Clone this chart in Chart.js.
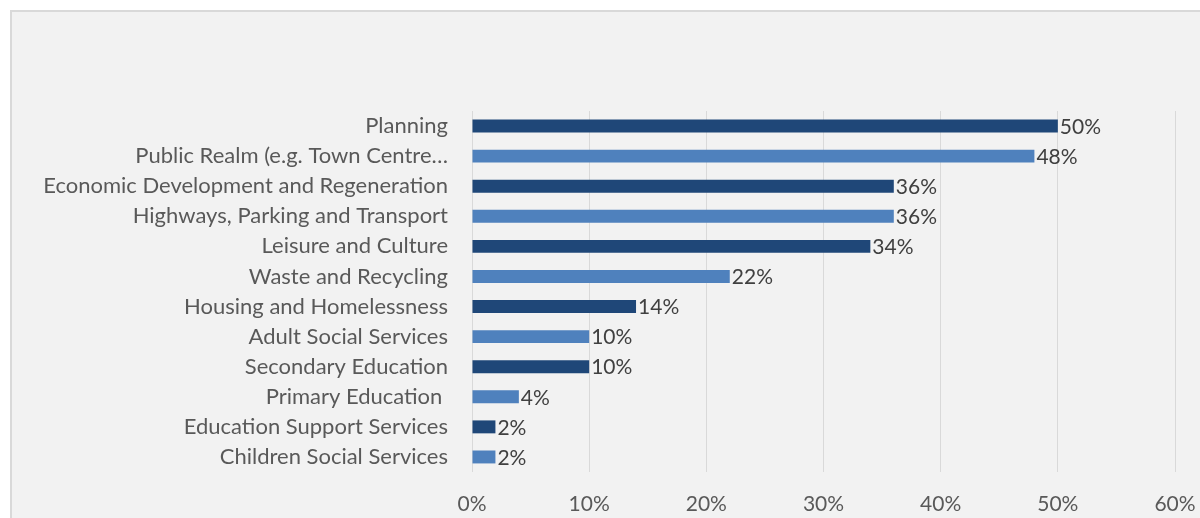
<!DOCTYPE html>
<html>
<head>
<meta charset="utf-8">
<script src="https://cdn.jsdelivr.net/npm/chart.js@4/dist/chart.umd.min.js"></script>
<style>
  html, body { margin: 0; padding: 0; background: #ffffff; }
  body { width: 1200px; height: 518px; position: relative; overflow: hidden; }
  .frame {
    position: absolute; left: 10px; top: 10px; width: 1220px; height: 540px;
    background: #f2f2f2; border: 2px solid #d9d9d9; box-sizing: border-box;
  }
  .wrap { position: absolute; left: 0; top: 0; width: 1200px; height: 518px; }
</style>
</head>
<body>
<div class="frame"></div>
<div class="wrap"><canvas id="chart"></canvas></div>
<script>
// Service areas and share of responses (%)
const categories = [
  "Planning",
  "Public Realm (e.g. Town Centre\u2026",
  "Economic Development and Regeneration",
  "Highways, Parking and Transport",
  "Leisure and Culture",
  "Waste and Recycling",
  "Housing and Homelessness",
  "Adult Social Services",
  "Secondary Education",
  "Primary Education ",
  "Education Support Services",
  "Children Social Services"
];
const shares = [50, 48, 36, 36, 34, 22, 14, 10, 10, 4, 2, 2];
const xTicks = [0, 10, 20, 30, 40, 50, 60];

const DARK = "#1f4778";
const LIGHT = "#4f81bd";
const FONT = "Lato, 'Liberation Sans', sans-serif";

// value labels at the end of each bar
const barLabels = {
  id: "barLabels",
  afterDatasetsDraw(chart) {
    const ctx = chart.ctx;
    const meta = chart.getDatasetMeta(0);
    ctx.save();
    ctx.font = "21px " + FONT;
    ctx.fillStyle = "#404040";
    ctx.textAlign = "left";
    ctx.textBaseline = "middle";
    meta.data.forEach((bar, i) => {
      ctx.fillText(shares[i] + "%", bar.x + 2, bar.y + 1);
    });
    ctx.restore();
  }
};

new Chart(document.getElementById("chart"), {
  type: "bar",
  data: {
    labels: categories,
    datasets: [{
      data: shares,
      backgroundColor: shares.map((_, i) => (i % 2 === 0 ? DARK : LIGHT)),
      borderWidth: 0,
      barPercentage: 0.86,
      categoryPercentage: 0.5
    }]
  },
  options: {
    indexAxis: "y",
    responsive: true,
    maintainAspectRatio: false,
    animation: false,
    layout: { padding: { top: 111, right: 25, bottom: 0, left: 0 } },
    plugins: { legend: { display: false }, tooltip: { enabled: false } },
    scales: {
      x: {
        min: 0,
        max: 60,
        afterBuildTicks: (scale) => { scale.ticks = xTicks.map((v) => ({ value: v })); },
        afterFit: (scale) => {
          scale.height = 46;
          scale.paddingLeft = 0;
          scale.paddingRight = 0;
        },
        grid: { color: "#d9d9d9", lineWidth: 1, drawTicks: false },
        border: { display: false },
        ticks: {
          padding: 20,
          color: "#595959",
          font: { family: FONT, size: 21 },
          callback: (v) => v + "%"
        }
      },
      y: {
        afterFit: (scale) => { scale.width = 472; },
        grid: { display: false, drawTicks: false },
        border: { display: false },
        ticks: {
          padding: 24,
          color: "#595959",
          font: { family: FONT, size: 22 }
        }
      }
    }
  },
  plugins: [barLabels]
});
</script>
</body>
</html>
